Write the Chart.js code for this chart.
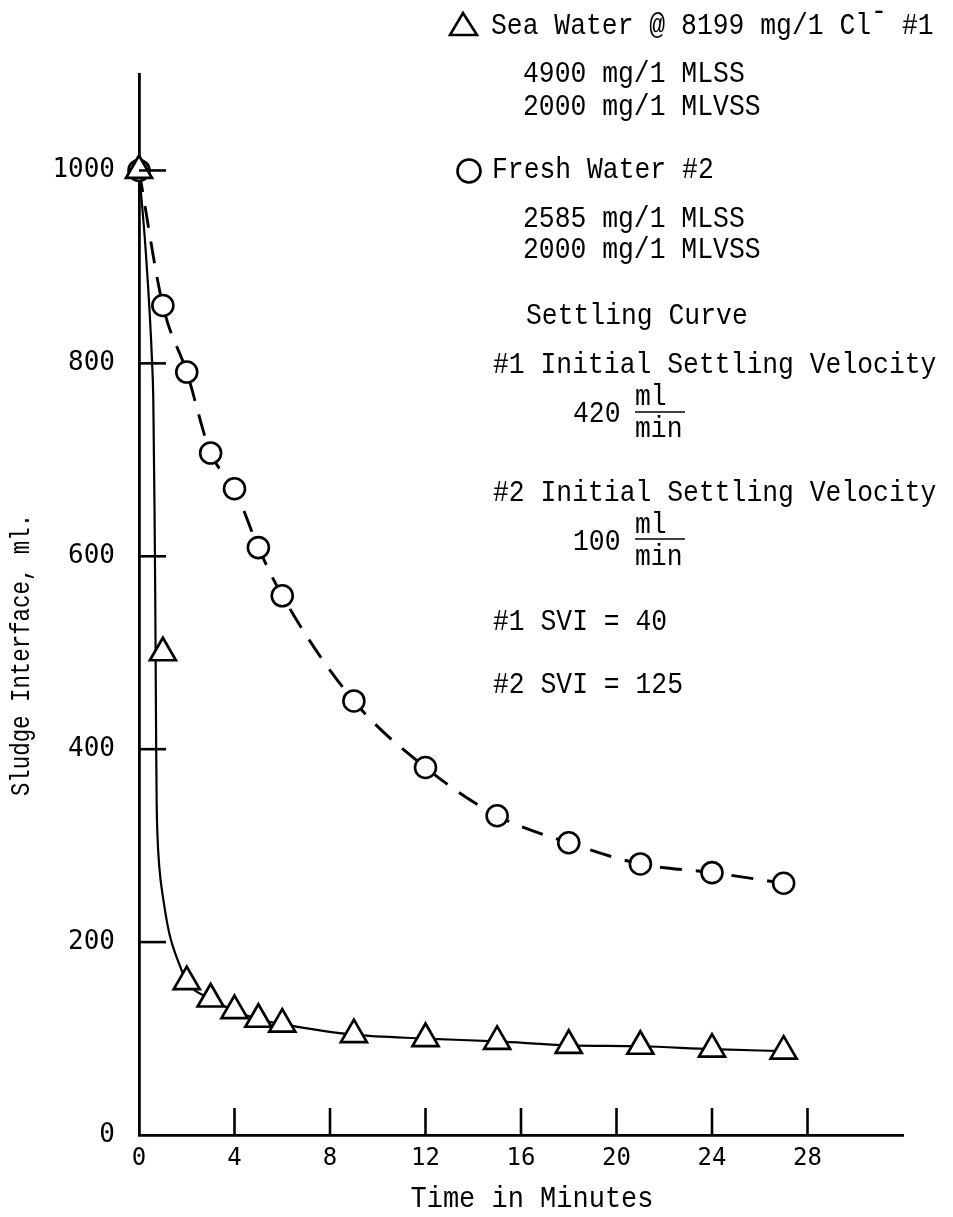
<!DOCTYPE html>
<html>
<head>
<meta charset="utf-8">
<title>Sludge settling curves</title>
<script src="https://cdn.jsdelivr.net/npm/chart.js@4.4.1/dist/chart.umd.min.js"></script>
<style>
  html, body { margin: 0; padding: 0; background: #fff; }
  canvas { display: block; }
</style>
</head>
<body>
<canvas id="settlingChart" width="953" height="1217"></canvas>
<script>
// Sea water run (#1), triangles
const seaTimes = [0, 1, 2, 3, 4, 5, 6, 9, 12, 15, 18, 21, 24, 27];
const seaLevels = [1000, 500, 159, 141, 129, 120, 115, 104, 100, 97, 93, 92, 89, 87];

// Hand drawn curve through the sea water points
const seaCurveTimes = [0, 0.28, 0.55, 0.6, 0.65, 0.68, 0.7, 0.72, 0.74, 0.77, 0.85, 1.02, 1.27, 1.72, 2, 3, 4, 5, 6, 9, 12, 15, 18, 21, 24, 27];
const seaCurveLevels = [1000, 917, 800, 760, 650, 560, 480, 400, 345, 313, 278, 244, 209, 175, 159, 141, 129, 120, 115, 104, 100, 97, 93, 92, 89, 87];

// Fresh water run (#2), circles
const freshTimes = [0, 1, 2, 3, 4, 5, 6, 9, 12, 15, 18, 21, 24, 27];
const freshLevels = [1000, 860, 791, 707, 670, 609, 559, 450, 381, 331, 303, 281, 272, 261];

// Axis ticks
const xTickValues = [0, 4, 8, 12, 16, 20, 24, 28];
const yTickValues = [0, 200, 400, 600, 800, 1000];

const INK = '#000';
const TYPE = '"Liberation Mono", "Courier New", monospace';

function toPoints(xs, ys) {
    return xs.map((x, i) => ({ x: x, y: ys[i] }));
}

// typewriter text, stretched a little taller like the original
function typeText(ctx, str, x, y, size, stretch) {
    ctx.save();
    ctx.font = size + 'px ' + TYPE;
    ctx.textAlign = 'left';
    ctx.textBaseline = 'alphabetic';
    ctx.translate(x, y);
    ctx.scale(1, stretch || 1.15);
    ctx.fillText(str, 0, 0);
    const w = ctx.measureText(str).width;
    ctx.restore();
    return w;
}

// tick marks point into the plot
const insideTicks = {
    id: 'insideTicks',
    afterDraw(chart) {
        const { ctx, scales: { x, y } } = chart;
        ctx.save();
        ctx.strokeStyle = INK;
        ctx.lineWidth = 2.6;
        xTickValues.filter(v => v > 0).forEach(v => {
            const px = x.getPixelForValue(v);
            ctx.beginPath();
            ctx.moveTo(px, y.bottom);
            ctx.lineTo(px, y.bottom - 27);
            ctx.stroke();
        });
        yTickValues.filter(v => v > 0).forEach(v => {
            const py = y.getPixelForValue(v);
            ctx.beginPath();
            ctx.moveTo(x.left, py);
            ctx.lineTo(x.left + 27, py);
            ctx.stroke();
        });
        ctx.restore();
    }
};

// axis titles and the notes block on the right
const notes = {
    id: 'notes',
    afterDraw(chart) {
        const ctx = chart.ctx;
        const size = 26.4;
        ctx.save();
        ctx.fillStyle = INK;
        ctx.strokeStyle = INK;

        // triangle key
        ctx.lineWidth = 2.6;
        ctx.beginPath();
        ctx.moveTo(463, 13);
        ctx.lineTo(477, 35);
        ctx.lineTo(450, 35);
        ctx.closePath();
        ctx.stroke();
        const w1 = typeText(ctx, 'Sea Water @ 8199 mg/1 Cl', 491, 34, size);
        typeText(ctx, '-', 491 + w1, 20, size);
        typeText(ctx, '#1', 902, 34, size);
        typeText(ctx, '4900 mg/1 MLSS', 523, 82, size);
        typeText(ctx, '2000 mg/1 MLVSS', 523, 115, size);

        // circle key
        ctx.beginPath();
        ctx.arc(469, 171, 11.5, 0, Math.PI * 2);
        ctx.stroke();
        typeText(ctx, 'Fresh Water #2', 492, 178, size);
        typeText(ctx, '2585 mg/1 MLSS', 523, 227, size);
        typeText(ctx, '2000 mg/1 MLVSS', 523, 258, size);

        typeText(ctx, 'Settling Curve', 526, 324, size);
        typeText(ctx, '#1 Initial Settling Velocity', 493, 373, size);
        typeText(ctx, '420', 573, 422, size);
        typeText(ctx, 'ml', 635, 405, size);
        typeText(ctx, 'min', 635, 437, size);
        typeText(ctx, '#2 Initial Settling Velocity', 493, 501, size);
        typeText(ctx, '100', 573, 550, size);
        typeText(ctx, 'ml', 635, 533, size);
        typeText(ctx, 'min', 635, 565, size);

        ctx.lineWidth = 1.6;
        [412, 539].forEach(yy => {
            ctx.beginPath();
            ctx.moveTo(635, yy);
            ctx.lineTo(685, yy);
            ctx.stroke();
        });

        typeText(ctx, '#1 SVI = 40', 493, 630, size);
        typeText(ctx, '#2 SVI = 125', 493, 693, size);

        // axis titles
        ctx.save();
        ctx.font = '27px ' + TYPE;
        ctx.textAlign = 'center';
        ctx.textBaseline = 'alphabetic';
        ctx.translate(532, 1207);
        ctx.scale(1, 1.08);
        ctx.fillText('Time in Minutes', 0, 0);
        ctx.restore();

        ctx.save();
        ctx.translate(29, 655);
        ctx.rotate(-Math.PI / 2);
        ctx.scale(1, 1.2);
        ctx.font = '22.4px ' + TYPE;
        ctx.textAlign = 'center';
        ctx.textBaseline = 'alphabetic';
        ctx.fillText('Sludge Interface, ml.', 0, 0);
        ctx.restore();

        ctx.restore();
    }
};

const chartCtx = document.getElementById('settlingChart').getContext('2d');
const settlingChart = new Chart(chartCtx, {
    type: 'scatter',
    data: {
        datasets: [{
            label: 'Sea Water @ 8199 mg/1 Cl- #1',
            data: toPoints(seaTimes, seaLevels),
            showLine: false,
            pointStyle: 'triangle',
            pointRadius: 15,
            pointBorderWidth: 2.7,
            pointBorderColor: INK,
            pointBackgroundColor: '#fff',
            clip: false
        }, {
            label: 'Fresh Water #2',
            data: toPoints(freshTimes, freshLevels),
            showLine: true,
            borderColor: INK,
            borderWidth: 2.9,
            borderDash: [22, 14],
            cubicInterpolationMode: 'monotone',
            pointStyle: 'circle',
            pointRadius: 10.5,
            pointBorderWidth: 2.6,
            pointBorderColor: INK,
            pointBackgroundColor: '#fff',
            clip: false
        }, {
            label: 'Settling curve #1',
            data: toPoints(seaCurveTimes, seaCurveLevels),
            showLine: true,
            borderColor: INK,
            borderWidth: 2.2,
            cubicInterpolationMode: 'monotone',
            pointRadius: 0,
            clip: false
        }]
    },
    options: {
        responsive: false,
        animation: false,
        layout: {
            padding: { top: 74, right: 50, left: 0, bottom: 0 }
        },
        plugins: {
            legend: { display: false },
            tooltip: { enabled: false }
        },
        scales: {
            x: {
                type: 'linear',
                min: 0,
                max: 32,
                afterBuildTicks: scale => {
                    scale.ticks = xTickValues.map(v => ({ value: v }));
                },
                afterFit: scale => { scale.height = 82; },
                grid: { display: false, drawTicks: false },
                border: { display: true, color: INK, width: 2.8 },
                ticks: {
                    color: INK,
                    padding: 9,
                    maxRotation: 0,
                    autoSkip: false,
                    callback: v => String(v),
                    font: { family: '"DejaVu Sans Mono", monospace', size: 24 }
                }
            },
            y: {
                type: 'linear',
                min: 0,
                max: 1100,
                afterBuildTicks: scale => {
                    scale.ticks = yTickValues.map(v => ({ value: v }));
                },
                afterFit: scale => { scale.width = 139; },
                grid: { display: false, drawTicks: false },
                border: { display: true, color: INK, width: 2.8 },
                ticks: {
                    color: INK,
                    padding: 24,
                    autoSkip: false,
                    callback: v => String(v),
                    font: { family: '"DejaVu Sans Mono", monospace', size: 26 }
                }
            }
        }
    },
    plugins: [insideTicks, notes]
});
</script>
</body>
</html>
